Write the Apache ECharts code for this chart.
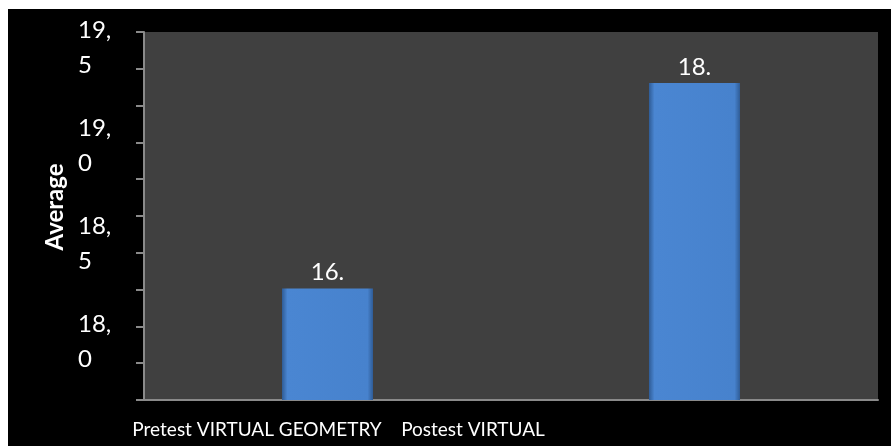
<!DOCTYPE html>
<html><head><meta charset="utf-8">
<script src="https://cdn.jsdelivr.net/npm/echarts@6/dist/echarts.min.js"></script>
<style>
html,body{margin:0;padding:0;background:#fff;width:891px;height:446px;overflow:hidden;}
#c{position:absolute;left:8px;top:9px;width:883px;height:437px;background:#000;}
</style></head><body>
<div id="c"></div>
<script>
const categories = ["Pretest VIRTUAL GEOMETRY", "Postest VIRTUAL"];
const values = [18.27, 19.32];
const barLabels = ["16.", "18."];
const yMin = 17.7, yMax = 19.58;
const yLabelValues = [18.0, 18.5, 19.0, 19.5];
const tickCount = 10;

const tickValues = [];
for (let i = 0; i <= tickCount; i++) tickValues.push(+(yMin + (yMax - yMin) * i / tickCount).toFixed(4));

const FONT = "Lato, sans-serif";
const CAT_SIZE = 19;
const chart = echarts.init(document.getElementById('c'), null, {renderer: 'canvas'});
chart.setOption({
  backgroundColor: '#000',
  animation: false,
  grid: {left: 136, top: 23, right: 13, bottom: 46, show: true, backgroundColor: '#404040', borderWidth: 0,
         containLabel: false, outerBoundsMode: 'none'},
  xAxis: {
    type: 'category', data: categories,
    axisLine: {show: true, lineStyle: {color: '#8a8a8a', width: 2}},
    axisTick: {show: false},
    axisLabel: {
      interval: 0, color: '#fff', fontFamily: FONT, fontSize: CAT_SIZE, margin: 20,
      formatter: (v, i) => '{c' + i + '|' + v + '}',
      rich: {c0: {padding: [0, 141, 0, 0], color: '#fff', fontFamily: FONT, fontSize: CAT_SIZE},
             c1: {padding: [0, 443, 0, 0], color: '#fff', fontFamily: FONT, fontSize: CAT_SIZE}}
    }
  },
  yAxis: {
    type: 'value', min: yMin, max: yMax,
    name: 'Average', nameLocation: 'middle', nameRotate: 90, nameGap: 61,
    nameTextStyle: {color: '#fff', fontWeight: 'bold', fontSize: 24, fontFamily: FONT, padding: [0, 0, 0, 18]},
    axisLine: {show: true, lineStyle: {color: '#8a8a8a', width: 2}},
    axisTick: {show: true, length: 8, customValues: tickValues, lineStyle: {color: '#8a8a8a', width: 2}},
    splitLine: {show: false},
    axisLabel: {
      customValues: yLabelValues, color: '#fff', fontFamily: FONT, fontSize: 24,
      lineHeight: 35, align: 'left', margin: 66,
      formatter: v => v.toFixed(1).replace('.', ',\n')
    }
  },
  series: [{
    type: 'bar', data: values, barWidth: '24.8%',
    itemStyle: {
      color: new echarts.graphic.LinearGradient(0, 0, 1, 0, [
        {offset: 0, color: '#2f5c96'}, {offset: 0.06, color: '#4a86d2'},
        {offset: 0.94, color: '#4782cd'}, {offset: 1, color: '#2f5c96'}
      ]),
      borderWidth: 0
    },
    label: {
      show: true, position: 'top', distance: 4, color: '#fff', fontFamily: FONT, fontSize: 24,
      formatter: p => barLabels[p.dataIndex]
    }
  }]
});
</script></body></html>
